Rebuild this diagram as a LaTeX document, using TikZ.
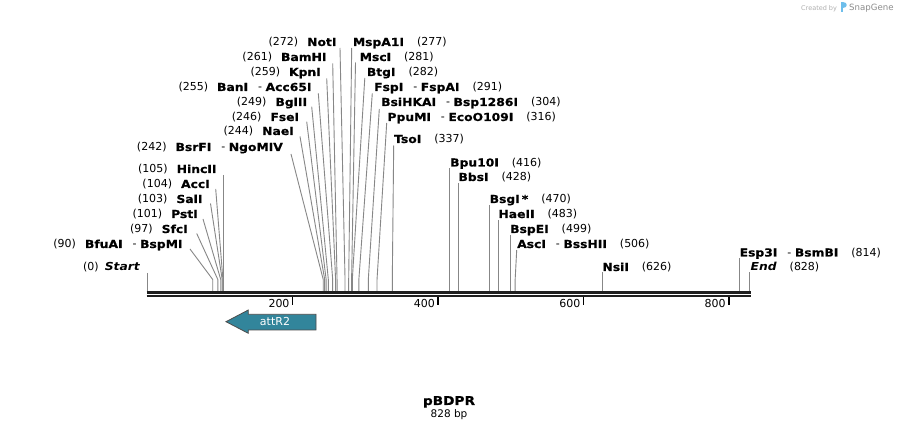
\documentclass[tikz,border=0pt]{standalone}
\usepackage{fontspec}
\setmainfont{DejaVu Sans}
\newfontfamily\lbf{DejaVu Sans}[FakeStretch=1.12, BoldFeatures={FakeBold=0.6}]
\definecolor{cutgray}{RGB}{135,135,135}
\definecolor{attr}{RGB}{50,133,155}
\definecolor{bb}{RGB}{30,30,30}
\definecolor{wm}{RGB}{175,175,175}
\definecolor{wmblue}{RGB}{110,190,235}
\newcommand\nm[1]{{\lbf\bfseries #1}}
\newcommand\nmi[1]{{\lbf\bfseries\itshape #1}}
\newcommand\dsh{\hspace{10pt}-\hspace{3.5pt}}
\newcommand\gl{\hspace{9pt}}
\newcommand\gr{\hspace{13pt}}
\begin{document}
\begin{tikzpicture}[x=1pt,y=-1pt,
  cut/.style={draw=cutgray,line width=0.9pt},
  lab/.style={inner sep=0pt,font=\fontsize{11}{13}\selectfont},
  L/.style={lab,anchor=base east},
  R/.style={lab,anchor=base west},
  ticklab/.style={inner sep=0pt,anchor=base east,font=\fontsize{11}{13}\selectfont}]
\fill[white] (0,0) rectangle (898,430);
\useasboundingbox (0,0) rectangle (898,430);

% site coordinates
\foreach \b in {0,90,97,101,103,104,105,242,244,246,249,255,259,261,272,277,281,282,291,304,316,337,416,428,470,483,499,506,626,814,828}{
  \coordinate (s\b) at ({147.3+0.727*\b},290.8);
  \coordinate (j\b) at ({147.3+0.727*\b},279.5);
}

% backbone
\coordinate (bbL) at (146.5,0);
\coordinate (bbR) at (751,0);
\draw[bb,line width=2.7pt] (bbL |- 0,292.4) -- (bbR |- 0,292.4);
\draw[bb,line width=2.3pt] (bbL |- 0,296.2) -- (bbR |- 0,296.2);

% ticks
\foreach \t in {200,400,600,800}{
  \coordinate (tk\t) at ({147.3+0.727*\t},297.3);
  \coordinate (tke\t) at ({147.3+0.727*\t},305);
  \draw[black,line width=1.5pt] (tk\t) -- (tke\t);
  \node[ticklab] (tl\t) at ({147.3+0.727*\t-3},307.4) {\t};
}

% ---- left small cluster ----
\node[L] (nStart) at (140,271) {(0)\hspace{6pt}\nmi{Start}};
\coordinate (aStart) at ({147.3},273);
\draw[cut] (aStart) -- (s0);

\node[L] (nBfuAI) at (182.7,248) {(90)\gl\nm{BfuAI}\dsh\nm{BspMI}};
\coordinate (aBfuAI) at (190,249);
\draw[cut] (aBfuAI) -- (j90) -- (s90);

\node[L] (nSfcI) at (188,233) {(97)\gl\nm{SfcI}};
\coordinate (aSfcI) at (196.7,233.5);
\draw[cut] (aSfcI) -- (j97) -- (s97);

\node[L] (nPstI) at (198,218) {(101)\gl\nm{PstI}};
\coordinate (aPstI) at (203,219);
\draw[cut] (aPstI) -- (j101) -- (s101);

\node[L] (nSalI) at (202.7,203) {(103)\gl\nm{SalI}};
\coordinate (aSalI) at (210.5,203.5);
\draw[cut] (aSalI) -- (j103) -- (s103);

\node[L] (nAccI) at (210,188) {(104)\gl\nm{AccI}};
\coordinate (aAccI) at (215.7,189);
\draw[cut] (aAccI) -- (j104) -- (s104);

\node[L] (nHincII) at (216.7,173) {(105)\gl\nm{HincII}};
\coordinate (aHincII) at ({147.3+0.727*105},175);
\draw[cut] (aHincII) -- (s105);

% ---- central cluster, left labels ----
\node[L] (nBsrFI) at (283,151) {(242)\gl\nm{BsrFI}\dsh\nm{NgoMIV}};
\coordinate (aBsrFI) at (291,154);
\draw[cut] (aBsrFI) -- (j242) -- (s242);

\node[L] (nNaeI) at (294,135) {(244)\gl\nm{NaeI}};
\coordinate (aNaeI) at (300,136.5);
\draw[cut] (aNaeI) -- (j244) -- (s244);

\node[L] (nFseI) at (299.3,121) {(246)\gl\nm{FseI}};
\coordinate (aFseI) at (306.7,121.7);
\draw[cut] (aFseI) -- (j246) -- (s246);

\node[L] (nBglII) at (307.3,106) {(249)\gl\nm{BglII}};
\coordinate (aBglII) at (311.7,106.7);
\draw[cut] (aBglII) -- (j249) -- (s249);

\node[L] (nBanI) at (311.7,91) {(255)\gl\nm{BanI}\dsh\nm{Acc65I}};
\coordinate (aBanI) at (318.3,93.3);
\draw[cut] (aBanI) -- (j255) -- (s255);

\node[L] (nKpnI) at (321,76) {(259)\gl\nm{KpnI}};
\coordinate (aKpnI) at (326.7,78.3);
\draw[cut] (aKpnI) -- (j259) -- (s259);

\node[L] (nBamHI) at (326.7,61) {(261)\gl\nm{BamHI}};
\coordinate (aBamHI) at (332.7,63.3);
\draw[cut] (aBamHI) -- (j261) -- (s261);

\node[L] (nNotI) at (336.7,46) {(272)\gl\nm{NotI}};
\coordinate (aNotI) at (340,48);
\draw[cut] (aNotI) -- (j272) -- (s272);

% ---- central cluster, right labels ----
\node[R] (nMspA1I) at (352.7,46) {\nm{MspA1I}\gr(277)};
\coordinate (aMspA1I) at (351.7,48);
\draw[cut] (aMspA1I) -- (j277) -- (s277);

\node[R] (nMscI) at (359.5,61) {\nm{MscI}\gr(281)};
\coordinate (aMscI) at (355.5,62.5);
\draw[cut] (aMscI) -- (j281) -- (s281);

\node[R] (nBtgI) at (366.7,76) {\nm{BtgI}\gr(282)};
\coordinate (aBtgI) at (364.8,78);
\draw[cut] (aBtgI) -- (j282) -- (s282);

\node[R] (nFspI) at (374,91) {\nm{FspI}\dsh\nm{FspAI}\gr(291)};
\coordinate (aFspI) at (372.3,93.3);
\draw[cut] (aFspI) -- (j291) -- (s291);

\node[R] (nBsiHKAI) at (381,106) {\nm{BsiHKAI}\dsh\nm{Bsp1286I}\gr(304)};
\coordinate (aBsiHKAI) at (379.3,109);
\draw[cut] (aBsiHKAI) -- (j304) -- (s304);

\node[R] (nPpuMI) at (387.3,121) {\nm{PpuMI}\dsh\nm{EcoO109I}\gr(316)};
\coordinate (aPpuMI) at (386.7,123);
\draw[cut] (aPpuMI) -- (j316) -- (s316);

\node[R] (nTsoI) at (394,143) {\nm{TsoI}\gr(337)};
\coordinate (aTsoI) at (393.7,145.5);
\draw[cut] (aTsoI) -- (j337) -- (s337);

% ---- right side ----
\node[R] (nBpu10I) at (450,166.5) {\nm{Bpu10I}\gr(416)};
\coordinate (aBpu10I) at ({147.3+0.727*416},168.5);
\draw[cut] (aBpu10I) -- (s416);

\node[R] (nBbsI) at (458.3,181) {\nm{BbsI}\gr(428)};
\coordinate (aBbsI) at ({147.3+0.727*428},183);
\draw[cut] (aBbsI) -- (s428);

\node[R] (nBsgI) at (489.5,203) {\nm{BsgI\hspace{2pt}*}\gr(470)};
\coordinate (aBsgI) at ({147.3+0.727*470},205);
\draw[cut] (aBsgI) -- (s470);

\node[R] (nHaeII) at (498.3,218) {\nm{HaeII}\gr(483)};
\coordinate (aHaeII) at ({147.3+0.727*483},220);
\draw[cut] (aHaeII) -- (s483);

\node[R] (nBspEI) at (510,233) {\nm{BspEI}\gr(499)};
\coordinate (aBspEI) at ({147.3+0.727*499},235);
\draw[cut] (aBspEI) -- (s499);

\node[R] (nAscI) at (517,248) {\nm{AscI}\dsh\nm{BssHII}\gr(506)};
\coordinate (aAscI) at (516.7,250);
\draw[cut] (aAscI) -- (j506) -- (s506);

\node[R] (nNsiI) at (602.3,271) {\nm{NsiI}\gr(626)};
\coordinate (aNsiI) at ({147.3+0.727*626},272.5);
\draw[cut] (aNsiI) -- (s626);

\node[R] (nEsp3I) at (739.5,256.5) {\nm{Esp3I}\dsh\nm{BsmBI}\gr(814)};
\coordinate (aEsp3I) at ({147.3+0.727*814},258.5);
\draw[cut] (aEsp3I) -- (s814);

\node[R] (nEnd) at (750.5,271) {\nmi{End}\gr(828)};
\coordinate (aEnd) at ({147.3+0.727*828},272.5);
\draw[cut] (aEnd) -- (s828);

% ---- attR2 feature ----
\draw[fill=attr,draw=black!70,line width=0.8pt]
  (226,321.7) -- (248.3,310) -- (248.3,314.3) -- (316,314.3) -- (316,330)
  -- (248.3,330) -- (248.3,333.3) -- cycle;
\node[inner sep=0pt,text=white,font=\fontsize{11}{13}\selectfont] (attR2) at (275,321.5) {attR2};

% ---- title ----
\node[inner sep=0pt,anchor=base,font=\fontsize{12.2}{14}\selectfont] (title) at (449,405) {\nm{pBDPR}};
\node[inner sep=0pt,anchor=base,font=\fontsize{10.5}{12}\selectfont] (len) at (449,417.3) {828 bp};

% ---- watermark ----
\node[inner sep=0pt,anchor=base west,text=wm,font=\fontsize{6.5}{8}\selectfont] (wm1) at (801,10.5) {Created by};
\fill[wmblue] (841,2.5) rectangle (843.2,12);
\fill[wmblue] (843.2,2.5) .. controls (847.5,2.5) and (847.5,8.5) .. (843.2,8.5) -- cycle;
\node[inner sep=0pt,anchor=base west,text=black!45,font=\fontsize{8.6}{10}\selectfont] (wm2) at (849,10.8) {SnapGene};
\end{tikzpicture}
\end{document}
